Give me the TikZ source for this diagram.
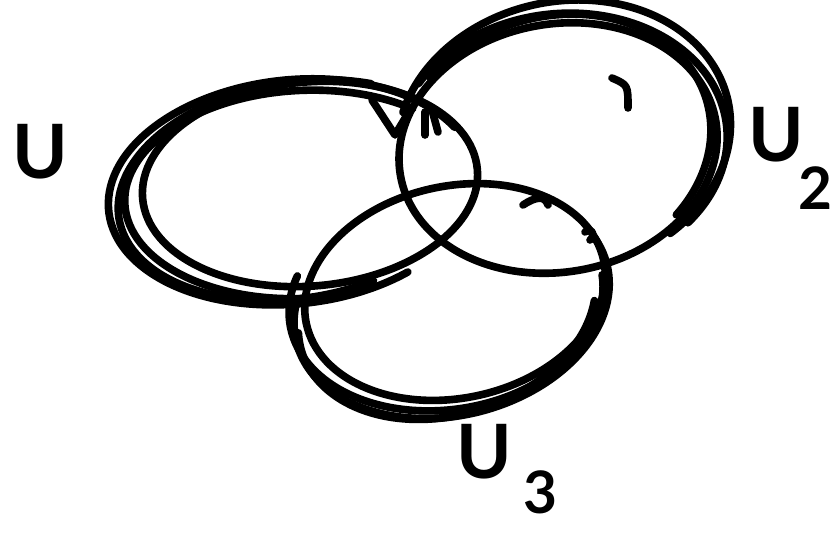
\documentclass[tikz,border=0pt]{standalone}
\usepackage{fontspec}
\setmainfont{Lato}
\begin{document}
\begin{tikzpicture}[x=0.03cm,y=-0.03cm,
  pen/.style={line width=6.5pt,line cap=round,line join=round,black},
  lbl/.style={inner sep=0pt,font=\fontsize{64}{64}\bfseries\selectfont},
  sub/.style={inner sep=0pt,font=\fontsize{50}{50}\bfseries\selectfont}]
\useasboundingbox[fill=white] (0,0) rectangle (834,537);
% centres
\coordinate (c1) at (310,184);
\coordinate (c2) at (558,148);
\coordinate (c3) at (455,292);
% ---- U (left set) ----
\draw[pen,rotate around={5:(c1)}] (c1) ellipse [x radius=168, y radius=102];
\draw[pen,rotate around={6:(c1)}] ([shift={(-18,6)}]c1) ++(55:185 and 112) arc[start angle=55,end angle=335,x radius=185,y radius=112];
\draw[pen,rotate around={9:(c1)}] ([shift={(-14,4)}]c1) ++(70:180 and 108) arc[start angle=70,end angle=300,x radius=180,y radius=108];
\draw[pen,rotate around={3:(c1)}] ([shift={(-8,10)}]c1) ++(90:178 and 104) arc[start angle=90,end angle=310,x radius=178,y radius=104];
% ---- U2 (upper right set) ----
\draw[pen,rotate around={10:(c2)}] (c2) ellipse [x radius=160, y radius=124];
\draw[pen,rotate around={12:(c2)}] ([shift={(8,-10)}]c2) ++(205:168 and 135) arc[start angle=205,end angle=420,x radius=168,y radius=135];
\draw[pen,rotate around={6:(c2)}] ([shift={(4,-4)}]c2) ++(215:166 and 130) arc[start angle=215,end angle=405,x radius=166,y radius=130];
\draw[pen,rotate around={16:(c2)}] ([shift={(-2,-4)}]c2) ++(230:158 and 128) arc[start angle=230,end angle=412,x radius=158,y radius=128];
% ---- U3 (bottom set) ----
\draw[pen,rotate around={12:(c3)}] (c3) ellipse [x radius=152, y radius=106];
\draw[pen,rotate around={14:(c3)}] ([shift={(-6,10)}]c3) ++(-15:160 and 112) arc[start angle=-15,end angle=200,x radius=160,y radius=112];
\draw[pen,rotate around={9:(c3)}] ([shift={(-10,6)}]c3) ++(0:158 and 110) arc[start angle=0,end angle=205,x radius=158,y radius=110];
\draw[pen,rotate around={17:(c3)}] ([shift={(-12,12)}]c3) ++(20:152 and 108) arc[start angle=20,end angle=190,x radius=152,y radius=108];
% ---- small hand strokes ----
\coordinate (t1) at (372,100);
\coordinate (t2) at (395,135);
\draw[pen] (t1) -- (t2) -- (410,110);
\coordinate (t3) at (425,112);
\coordinate (t4) at (425,135);
\draw[pen] (t3) -- (t4);
\coordinate (t5) at (432,110);
\coordinate (t6) at (438,132);
\draw[pen] (t5) -- (t6);
\coordinate (t7) at (612,78);
\coordinate (t8) at (628,108);
\draw[pen] (t7) .. controls (628,85) .. (t8);
\coordinate (t9) at (523,205);
\coordinate (t10) at (548,205);
\draw[pen] (t9) .. controls (535,197) and (545,195) .. (t10);
\coordinate (t11) at (585,232);
\coordinate (t12) at (590,240);
\draw[pen] (t11) .. controls (592,226) and (596,236) .. (t12);
% ---- labels ----
\node[lbl] (u1) at (40,152) {U};
\node[lbl] (u2) at (776,135) {U};
\node[sub] (u2s) at (815,188) {2};
\node[lbl] (u3) at (484,452) {U};
\node[sub] (u3s) at (540,492) {3};
\end{tikzpicture}
\end{document}
